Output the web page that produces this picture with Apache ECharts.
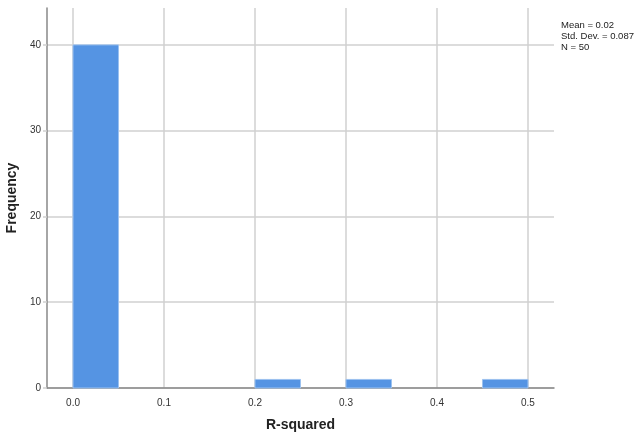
<!DOCTYPE html>
<html>
<head>
<meta charset="utf-8">
<script src="https://cdn.jsdelivr.net/npm/echarts@6/dist/echarts.min.js"></script>
<style>
  html, body { margin: 0; padding: 0; background: #fff; }
  #main { width: 635px; height: 435px; }
</style>
</head>
<body>
<div id="main"></div>
<script>
// histogram bins (R-squared), width 0.05
var binStart = [0.00, 0.20, 0.30, 0.45];
var binEnd = [0.05, 0.25, 0.35, 0.50];
var counts = [40, 1, 1, 1];

var xTicks = [0.0, 0.1, 0.2, 0.3, 0.4, 0.5];
var yTicks = [0, 10, 20, 30, 40];
var statsLines = ['Mean = 0.02', 'Std. Dev. = 0.087', 'N = 50'];

var chart = echarts.init(document.getElementById('main'), null, { renderer: 'canvas' });

var binData = [];
for (var i = 0; i < counts.length; i++) {
    binData.push([binStart[i], binEnd[i], counts[i]]);
}

function renderBin(params, api) {
    var p0 = api.coord([api.value(0), api.value(2)]);
    var p1 = api.coord([api.value(1), 0]);
    return {
        type: 'rect',
        shape: { x: p0[0], y: p0[1], width: p1[0] - p0[0], height: p1[1] - p0[1] },
        style: { fill: '#5594e3', stroke: '#9cc2f0', lineWidth: 1 }
    };
}

var option = {
    animation: false,
    textStyle: { fontFamily: 'Liberation Sans, Arial, sans-serif' },
    grid: { left: 47, right: 81, top: 8, bottom: 47, containLabel: false, outerBoundsMode: 'none' },
    xAxis: {
        type: 'value',
        min: -0.0286,
        max: 0.5286,
        name: 'R-squared',
        nameLocation: 'middle',
        nameGap: 30,
        nameTextStyle: { fontSize: 14, fontWeight: 'bold', color: '#222' },
        axisLine: { show: true, onZero: false, lineStyle: { color: '#888', width: 1.5 } },
        axisTick: { show: false, customValues: xTicks },
        axisLabel: {
            customValues: xTicks,
            fontSize: 10, color: '#333', margin: 10,
            formatter: function (v) { return v.toFixed(1); }
        },
        splitLine: { show: true, lineStyle: { color: '#d0d0d0', width: 1.5 } }
    },
    yAxis: {
        type: 'value',
        min: 0,
        max: 44.3,
        name: 'Frequency',
        nameLocation: 'middle',
        nameGap: 26,
        nameTextStyle: { fontSize: 14, fontWeight: 'bold', color: '#222' },
        axisLine: { show: true, onZero: false, lineStyle: { color: '#888', width: 1.5 } },
        axisTick: { show: true, length: 4, customValues: yTicks, lineStyle: { color: '#d0d0d0', width: 1.5 } },
        axisLabel: { customValues: yTicks, fontSize: 10, color: '#333', margin: 6 },
        splitLine: { show: true, lineStyle: { color: '#d0d0d0', width: 1.5 } }
    },
    graphic: [{
        type: 'text',
        left: 561,
        top: 20,
        style: {
            text: statsLines.join('\n'),
            fontSize: 9.5,
            lineHeight: 11,
            fill: '#222',
            fontFamily: 'Liberation Sans, Arial, sans-serif'
        }
    }],
    series: [{
        type: 'custom',
        renderItem: renderBin,
        encode: { x: [0, 1], y: 2 },
        data: binData,
        z: 3
    }]
};

chart.setOption(option);
</script>
</body>
</html>
